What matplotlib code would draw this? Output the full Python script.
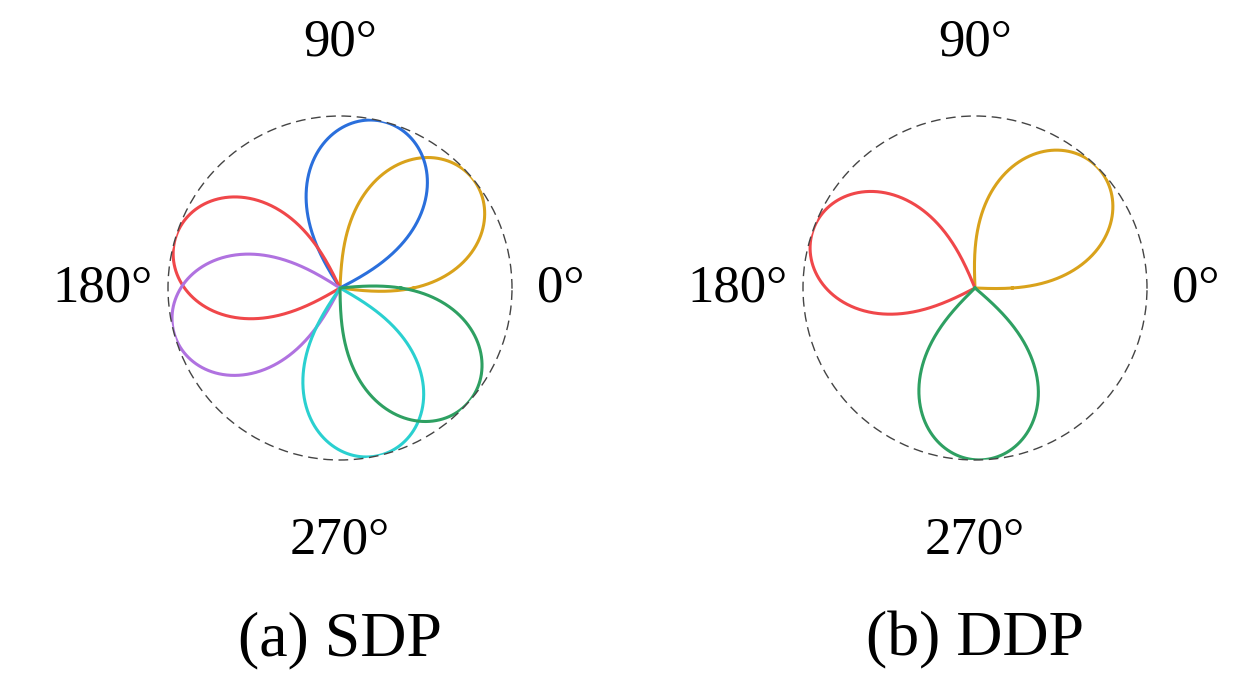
import numpy as np
import matplotlib.pyplot as plt

plt.rcParams['font.family'] = ['Liberation Serif', 'DejaVu Serif']

# lobe main directions (degrees) and colours
sdp_dirs = [40, 75, 163, 195, 283, 318]
sdp_colors = ['#d9a21b', '#2a6fdc', '#f0474a', '#b072e0', '#2ad0d0', '#2ea062']
ddp_dirs = [45, 160, 272]
ddp_colors = ['#d9a21b', '#f0474a', '#2ea062']
titles = ['(a) SDP', '(b) DDP']
k, p = 1.9, 0.6

fig = plt.figure(figsize=(12.52, 6.97), dpi=100)
centers = [(340, 288), (975, 288)]
R = 172
theta = np.linspace(0, 2 * np.pi, 2000)

for (cx, cy), dirs, cols, title in zip(centers, [sdp_dirs, ddp_dirs],
                                       [sdp_colors, ddp_colors], titles):
    w, h = 2 * R / 1252, 2 * R / 697
    ax = fig.add_axes([cx / 1252 - w / 2, 1 - cy / 697 - h / 2, w, h], projection='polar')
    for d, c in zip(dirs, cols):
        a = np.angle(np.exp(1j * (theta - np.deg2rad(d))))
        r = np.where(np.abs(a) < np.pi / (2 * k), np.clip(np.cos(k * a), 0, None) ** p, 0)
        ax.plot(theta, r, color=c, lw=2.2)
    ax.set_ylim(0, 1)
    ax.grid(False)
    ax.set_xticks([])
    ax.set_yticks([])
    ax.spines['polar'].set_linestyle((0, (6, 5)))
    ax.spines['polar'].set_linewidth(1.0)
    ax.spines['polar'].set_color('#444444')
    fx, fy = cx / 1252, 1 - cy / 697
    fs = 38
    fig.text(fx, 1 - 42 / 697, '90°', ha='center', va='center', fontsize=fs)
    fig.text(fx, 1 - 540 / 697, '270°', ha='center', va='center', fontsize=fs)
    fig.text((cx + R + 25) / 1252, fy, '0°', ha='left', va='center', fontsize=fs)
    fig.text((cx - R - 15) / 1252, fy, '180°', ha='right', va='center', fontsize=fs)
    fig.text(fx, 1 - 640 / 697, title, ha='center', va='center', fontsize=46)

fig.savefig('out.png', dpi=100)
